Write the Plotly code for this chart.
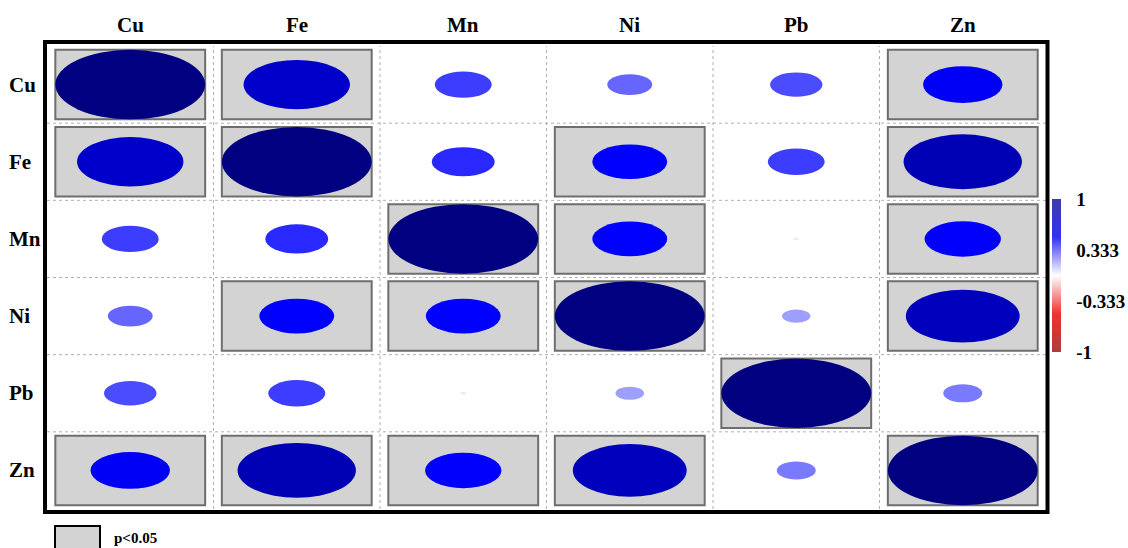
import plotly.graph_objects as go

labels = ["Cu", "Fe", "Mn", "Ni", "Pb", "Zn"]
corr = [
    [1.00, 0.71, 0.38, 0.30, 0.35, 0.53],
    [0.71, 1.00, 0.42, 0.50, 0.38, 0.79],
    [0.38, 0.42, 1.00, 0.50, 0.04, 0.51],
    [0.30, 0.50, 0.50, 1.00, 0.19, 0.76],
    [0.35, 0.38, 0.04, 0.19, 1.00, 0.26],
    [0.53, 0.79, 0.51, 0.76, 0.26, 1.00],
]
signif = [
    [1, 1, 0, 0, 0, 1],
    [1, 1, 0, 1, 0, 1],
    [0, 0, 1, 1, 0, 1],
    [0, 1, 1, 1, 0, 1],
    [0, 0, 0, 0, 1, 0],
    [1, 1, 1, 1, 0, 1],
]
cbar_ticks = [1, 0.333, -0.333, -1]

# colour ramp: darkred, red, white, blue, navy over [-1, 1]
ramp = [(-1.0, (139, 0, 0)), (-0.5, (255, 0, 0)), (0.0, (255, 255, 255)),
        (0.5, (0, 0, 255)), (1.0, (0, 0, 128))]


def col(v):
    for (a, ca), (b, cb) in zip(ramp[:-1], ramp[1:]):
        if a <= v <= b:
            t = (v - a) / (b - a)
            c = [round(ca[k] + t * (cb[k] - ca[k])) for k in range(3)]
            return f"rgb({c[0]},{c[1]},{c[2]})"
    return "rgb(0,0,128)"


W, H = 1128, 548
L, R, T, B = 47, 82, 46, 39
pw, ph = W - L - R, H - T - B


def px(x):
    return (x - L) / pw


def py(y):
    return (H - B - y) / ph


n = len(labels)
shapes = []
# dotted grid lines
for k in range(1, n):
    shapes.append(dict(type="line", xref="x", yref="paper", x0=k, x1=k, y0=0, y1=1,
                       line=dict(color="#b0b0b0", width=1, dash="dot"), layer="below"))
    shapes.append(dict(type="line", xref="paper", yref="y", x0=0, x1=1, y0=k, y1=k,
                       line=dict(color="#b0b0b0", width=1, dash="dot"), layer="below"))
# significance boxes
for i in range(n):
    for j in range(n):
        if signif[i][j]:
            shapes.append(dict(type="rect", xref="x", yref="y",
                               x0=j + 0.05, x1=j + 0.95, y0=i + 0.05, y1=i + 0.95,
                               fillcolor="#d3d3d3", line=dict(color="#6e6e6e", width=2)))
# ellipses
for i in range(n):
    for j in range(n):
        r = abs(corr[i][j])
        h = 0.45 * r
        shapes.append(dict(type="circle", xref="x", yref="y",
                           x0=j + 0.5 - h, x1=j + 0.5 + h, y0=i + 0.5 - h, y1=i + 0.5 + h,
                           fillcolor=col(corr[i][j]), line=dict(width=0)))
# outer thick border
shapes.append(dict(type="rect", xref="paper", yref="paper",
                   x0=px(45), x1=px(1047.5), y0=py(512), y1=py(42),
                   line=dict(color="black", width=4)))
# legend box
shapes.append(dict(type="rect", xref="paper", yref="paper",
                   x0=px(55), x1=px(100), y0=py(550), y1=py(526),
                   fillcolor="#d3d3d3", line=dict(color="black", width=2)))

font = dict(family="Liberation Serif", size=21, color="black")
ann = []
for j, lab in enumerate(labels):
    ann.append(dict(x=j + 0.5, y=py(25), xref="x", yref="paper", text=f"<b>{lab}</b>",
                    showarrow=False, font=font, xanchor="center", yanchor="middle"))
for i, lab in enumerate(labels):
    ann.append(dict(x=px(7), y=i + 0.5, xref="paper", yref="y", text=f"<b>{lab}</b>",
                    showarrow=False, font=font, xanchor="left", yanchor="middle"))
ann.append(dict(x=px(112), y=py(538), xref="paper", yref="paper", text="<b>p<0.05</b>",
                showarrow=False, font=dict(family="Liberation Serif", size=15, color="black"),
                xanchor="left", yanchor="middle"))

cb_scale = [[0.0, "rgb(175,60,60)"], [0.25, "rgb(238,50,50)"], [0.5, "rgb(255,255,255)"],
            [0.75, "rgb(50,50,240)"], [1.0, "rgb(60,60,172)"]]

fig = go.Figure()
fig.add_trace(go.Scatter(
    x=[0.5], y=[0.5], mode="markers", hoverinfo="skip", showlegend=False,
    marker=dict(size=1, opacity=0, color=[0], cmin=-1, cmax=1, colorscale=cb_scale,
                showscale=True,
                colorbar=dict(x=px(1052), xanchor="left", xpad=0, ypad=0,
                              y=py(275.5), yanchor="middle", len=153, lenmode="pixels",
                              thickness=9, outlinewidth=0, ticks="outside", ticklen=12,
                              tickcolor="rgba(0,0,0,0)",
                              tickvals=cbar_ticks, ticktext=[f"<b>{t}</b>" for t in cbar_ticks],
                              tickfont=dict(family="Liberation Serif", size=19, color="black")))))

fig.update_layout(
    width=W, height=H, margin=dict(l=L, r=R, t=T, b=B, autoexpand=False),
    paper_bgcolor="white", plot_bgcolor="white",
    xaxis=dict(range=[0, n], visible=False, fixedrange=True),
    yaxis=dict(range=[n, 0], visible=False, fixedrange=True),
    shapes=shapes, annotations=ann, showlegend=False,
)
fig.write_html("out.html", config={"displayModeBar": False},
               post_script="document.body.style.margin='0';document.body.style.overflow='hidden';")
